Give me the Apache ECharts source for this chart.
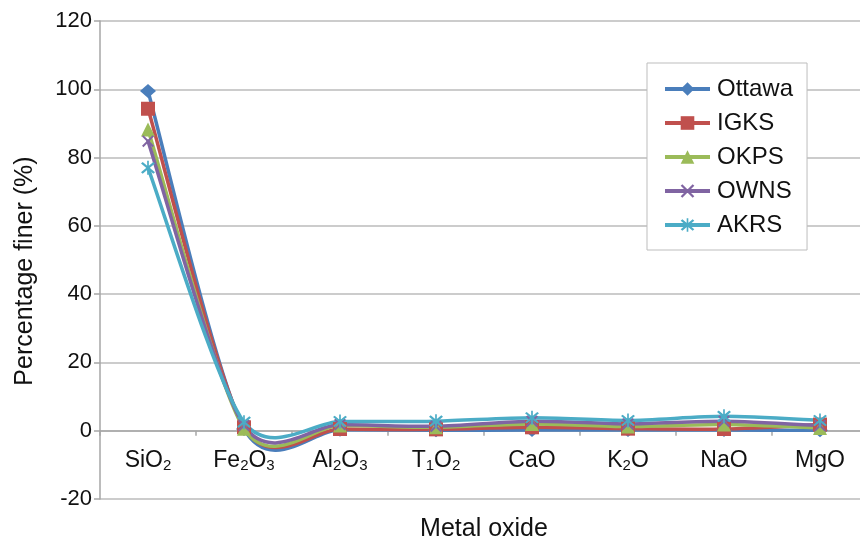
<!DOCTYPE html>
<html>
<head>
<meta charset="utf-8">
<script src="https://cdn.jsdelivr.net/npm/echarts@6/dist/echarts.min.js"></script>
<style>
  html, body { margin: 0; padding: 0; background: #ffffff; }
  #chart { width: 860px; height: 543px; }
</style>
</head>
<body>
<div id="chart"></div>
<script>
// Metal oxide composition of the sands
const categories = ['SiO2', 'Fe2O3', 'Al2O3', 'T1O2', 'CaO', 'K2O', 'NaO', 'MgO'];
const ottawa = [99.5, 0.5, 0.3, 0.1, 0.2, 0.2, 0.2, 0.1];
const igks   = [94.3, 1.0, 0.5, 0.4, 1.0, 0.6, 0.5, 1.8];
const okps   = [88.2, 0.6, 1.5, 1.0, 2.0, 1.2, 1.8, 0.8];
const owns   = [84.8, 1.5, 1.8, 1.3, 2.8, 2.0, 2.8, 1.5];
const akrs   = [77.0, 2.5, 2.7, 2.8, 3.8, 3.0, 4.2, 3.0];
const yTicks = { min: -20, max: 120, step: 20 };

const FONT = '"Liberation Sans", Arial, sans-serif';
const GRID = { left: 100, right: -8, top: 21, bottom: 44 };
const CHART_H = 543;
// the category axis sits on the zero line
const plotH = CHART_H - GRID.top - GRID.bottom;
const zeroOffset = -plotH * (0 - yTicks.min) / (yTicks.max - yTicks.min);

// cross and asterisk markers built from thin bars
const crossPath = 'path://M0,1.2L1.2,0L10,8.8L8.8,10Z M8.8,0L10,1.2L1.2,10L0,8.8Z';
const starPath = 'path://M0,1.2L1.2,0L10,8.8L8.8,10Z M8.8,0L10,1.2L1.2,10L0,8.8Z M4.4,-1L5.6,-1L5.6,11L4.4,11Z';

function withSubscripts(name) {
  // chemical formula: digits become subscripts
  return name.split(/(\d+)/).filter(s => s.length)
    .map(s => /^\d+$/.test(s) ? '{s|' + s + '}' : '{m|' + s + '}').join('');
}

// smooth curve through all points (cardinal spline as cubic Beziers)
const TENSION = 0.14;
function smoothCurve(values, color) {
  return {
    type: 'custom',
    coordinateSystem: 'cartesian2d',
    silent: true,
    data: values.map((v, i) => [i, v]),
    renderItem: function (params, api) {
      if (params.dataIndex !== 0) return null;
      const pts = values.map((v, i) => api.coord([i, v]));
      const n = pts.length;
      const p = k => pts[Math.max(0, Math.min(n - 1, k))];
      let d = 'M' + pts[0][0] + ' ' + pts[0][1];
      for (let i = 0; i < n - 1; i++) {
        const a = p(i - 1), b = p(i), c = p(i + 1), e = p(i + 2);
        const c1x = b[0] + (c[0] - a[0]) * TENSION;
        const c1y = b[1] + (c[1] - a[1]) * TENSION;
        const c2x = c[0] - (e[0] - b[0]) * TENSION;
        const c2y = c[1] - (e[1] - b[1]) * TENSION;
        d += ' C' + c1x + ' ' + c1y + ' ' + c2x + ' ' + c2y + ' ' + c[0] + ' ' + c[1];
      }
      return {
        type: 'path',
        shape: { pathData: d },
        style: { fill: null, stroke: color, lineWidth: 3.5, lineJoin: 'round', lineCap: 'round' }
      };
    }
  };
}

function markerSeries(name, data, color, symbol, size) {
  return {
    name: name,
    type: 'line',
    data: data,
    symbol: symbol,
    symbolSize: size,
    showAllSymbol: true,
    lineStyle: { width: 3.5, color: color, opacity: 0 },
    itemStyle: { color: color },
    emphasis: { disabled: true }
  };
}

const seriesDefs = [
  ['Ottawa', ottawa, '#4A7EBB', 'diamond', [16, 14]],
  ['IGKS', igks, '#C0504D', 'rect', 14],
  ['OKPS', okps, '#9BBB59', 'triangle', 14],
  ['OWNS', owns, '#8064A2', crossPath, 12],
  ['AKRS', akrs, '#4BACC6', starPath, 14]
];
const series = [];
seriesDefs.forEach(s => {
  series.push(smoothCurve(s[1], s[2]));
  series.push(markerSeries(s[0], s[1], s[2], s[3], s[4]));
});

const chart = echarts.init(document.getElementById('chart'), null, { renderer: 'canvas' });
chart.setOption({
  animation: false,
  backgroundColor: '#ffffff',
  textStyle: { fontFamily: FONT, color: '#111111' },
  grid: Object.assign({ containLabel: false, outerBoundsMode: 'none' }, GRID),
  legend: {
    orient: 'vertical',
    left: 647,
    top: 63,
    padding: [14, 14, 13, 16],
    itemGap: 10,
    itemWidth: 45,
    itemHeight: 17,
    borderColor: '#BDBDBD',
    borderWidth: 1,
    backgroundColor: '#ffffff',
    lineStyle: { width: 4, opacity: 1 },
    textStyle: { fontFamily: FONT, fontSize: 24, color: '#111111', lineHeight: 24, padding: [0, 0, 0, 2] },
    data: ['Ottawa', 'IGKS', 'OKPS', 'OWNS', 'AKRS']
  },
  xAxis: {
    type: 'category',
    data: categories,
    boundaryGap: true,
    offset: zeroOffset,
    name: 'Metal oxide',
    nameLocation: 'middle',
    nameGap: 86,
    nameTextStyle: { fontFamily: FONT, fontSize: 25, color: '#111111' },
    axisLine: { onZero: false, lineStyle: { color: '#A6A6A6', width: 1.5 } },
    axisTick: { show: true, inside: false, length: 5, alignWithLabel: false, lineStyle: { color: '#A6A6A6', width: 1.5 } },
    axisLabel: {
      interval: 0,
      margin: 17,
      formatter: withSubscripts,
      color: '#111111',
      rich: {
        m: { fontFamily: FONT, fontSize: 23, lineHeight: 26, color: '#111111' },
        s: { fontFamily: FONT, fontSize: 15, lineHeight: 15, padding: [13, 0, 0, 0], verticalAlign: 'bottom', color: '#111111' }
      }
    },
    splitLine: { show: false }
  },
  yAxis: {
    type: 'value',
    min: yTicks.min,
    max: yTicks.max,
    interval: yTicks.step,
    name: 'Percentage finer (%)',
    nameLocation: 'middle',
    nameGap: 62,
    nameRotate: 90,
    nameTextStyle: { fontFamily: FONT, fontSize: 25, color: '#111111', padding: [0, 22, 0, 0] },
    axisLine: { show: true, onZero: false, lineStyle: { color: '#A6A6A6', width: 1.5 } },
    axisTick: { show: true, inside: false, length: 6, lineStyle: { color: '#A6A6A6', width: 1.5 } },
    axisLabel: { margin: 8, fontFamily: FONT, fontSize: 22, color: '#111111' },
    splitLine: { show: true, lineStyle: { color: '#BBBBBB', width: 1.5 } }
  },
  series: series
});
</script>
</body>
</html>
